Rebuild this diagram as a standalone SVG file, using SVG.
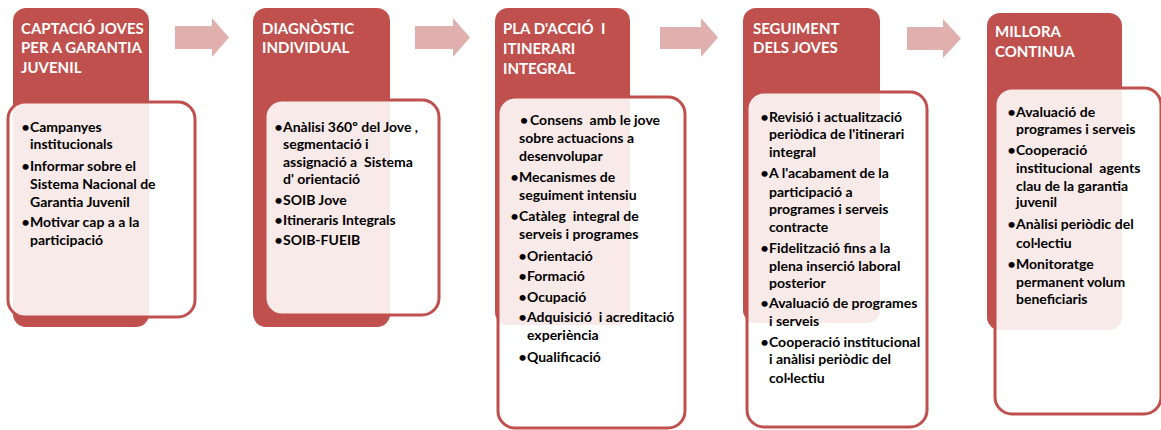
<svg xmlns="http://www.w3.org/2000/svg" width="1161" height="430" viewBox="0 0 1161 430">
<style>
.hd{fill:#c0504d}
.bx{fill:#ffffff;fill-opacity:0.88;stroke:#c0504d;stroke-width:3}
.ti{font-family:Lato,"Liberation Sans",sans-serif;font-weight:bold;font-size:15px;fill:#ffffff}
.tx{font-family:Lato,"Liberation Sans",sans-serif;font-weight:bold;font-size:14px;fill:#000000}
.bu{font-family:Lato,"Liberation Sans",sans-serif;font-weight:bold;font-size:14px;fill:#000000;text-anchor:end}
.ar{fill:#e0b0af}
</style>
<rect width="1161" height="430" fill="#ffffff"/>
<g id="connectors">
<polygon class="ar" points="175,26 212,26 212,18 229,37.5 212,57 212,49 175,49"/>
<polygon class="ar" points="415,26 453,26 453,18 470,37.5 453,57 453,49 415,49"/>
<polygon class="ar" points="660,27 701,27 701,18 718,37.5 701,57 701,49 660,49"/>
<polygon class="ar" points="907,27 943,27 943,19 961,38.5 943,58 943,50 907,50"/>
</g>
<g id="node1">
<rect class="hd" x="13" y="8" width="136" height="319" rx="13"/>
<rect class="bx" x="8" y="102" width="187" height="215" rx="17"/>
<text class="ti"><tspan x="21" y="34">CAPTACIÓ JOVES</tspan><tspan x="21" y="53">PER A GARANTIA</tspan><tspan x="21" y="73">JUVENIL</tspan></text>
<text class="bu"><tspan x="29.5" y="132">•</tspan><tspan x="29.5" y="171">•</tspan><tspan x="29.5" y="227">•</tspan></text>
<text class="tx"><tspan x="30" y="132">Campanyes</tspan><tspan x="30" y="149">institucionals</tspan><tspan x="30" y="171">Informar sobre el</tspan><tspan x="30" y="189">Sistema Nacional de</tspan><tspan x="30" y="207">Garantia Juvenil</tspan><tspan x="30" y="227">Motivar cap a a la</tspan><tspan x="30" y="245">participació</tspan></text>
</g>
<g id="node2">
<rect class="hd" x="253" y="8" width="137" height="319" rx="13"/>
<rect class="bx" x="265" y="100" width="174" height="215" rx="17"/>
<text class="ti"><tspan x="262" y="34">DIAGNÒSTIC</tspan><tspan x="262" y="53">INDIVIDUAL</tspan></text>
<text class="bu"><tspan x="282.5" y="132">•</tspan><tspan x="282.5" y="205">•</tspan><tspan x="282.5" y="225">•</tspan><tspan x="282.5" y="245">•</tspan></text>
<text class="tx" xml:space="preserve"><tspan x="283" y="132">Anàlisi 360º del Jove ,</tspan><tspan x="283" y="149">segmentació i</tspan><tspan x="283" y="167">assignació a  Sistema</tspan><tspan x="283" y="184">d' orientació</tspan><tspan x="283" y="205">SOIB Jove</tspan><tspan x="283" y="225">Itineraris Integrals</tspan><tspan x="283" y="245">SOIB-FUEIB</tspan></text>
</g>
<g id="node3">
<rect class="hd" x="495" y="8" width="135" height="317" rx="13"/>
<rect class="bx" x="498" y="97" width="187" height="331" rx="17"/>
<text class="ti" xml:space="preserve"><tspan x="503" y="34">PLA D'ACCIÓ  I</tspan><tspan x="503" y="54">ITINERARI</tspan><tspan x="503" y="74">INTEGRAL</tspan></text>
<text class="bu"><tspan x="528" y="125">•</tspan><tspan x="518.5" y="182">•</tspan><tspan x="518.5" y="221">•</tspan><tspan x="526.5" y="261">•</tspan><tspan x="526.5" y="281">•</tspan><tspan x="526.5" y="302">•</tspan><tspan x="526.5" y="322">•</tspan><tspan x="526.5" y="362">•</tspan></text>
<text class="tx" xml:space="preserve"><tspan x="530" y="125">Consens  amb le jove</tspan><tspan x="519" y="143">sobre actuacions a</tspan><tspan x="519" y="161">desenvolupar</tspan><tspan x="519" y="182">Mecanismes de</tspan><tspan x="519" y="200">seguiment intensiu</tspan><tspan x="519" y="221">Catàleg  integral de</tspan><tspan x="519" y="239">serveis i programes</tspan><tspan x="527" y="261">Orientació</tspan><tspan x="527" y="281">Formació</tspan><tspan x="527" y="302">Ocupació</tspan><tspan x="527" y="322">Adquisició  i acreditació</tspan><tspan x="527" y="340">experiència</tspan><tspan x="527" y="362">Qualificació</tspan></text>
</g>
<g id="node4">
<rect class="hd" x="743" y="8" width="137" height="315" rx="13"/>
<rect class="bx" x="747" y="92" width="180" height="335" rx="17"/>
<text class="ti"><tspan x="753" y="34">SEGUIMENT</tspan><tspan x="753" y="53">DELS JOVES</tspan></text>
<text class="bu"><tspan x="768.5" y="122">•</tspan><tspan x="768.5" y="178">•</tspan><tspan x="768.5" y="253">•</tspan><tspan x="768.5" y="308">•</tspan><tspan x="768.5" y="347">•</tspan></text>
<text class="tx"><tspan x="769" y="122">Revisió i actualització</tspan><tspan x="769" y="139">periòdica de l'itinerari</tspan><tspan x="769" y="157">integral</tspan><tspan x="769" y="178">A l'acabament de la</tspan><tspan x="769" y="197">participació a</tspan><tspan x="769" y="214">programes i serveis</tspan><tspan x="769" y="232">contracte</tspan><tspan x="769" y="253">Fidelització fins a la</tspan><tspan x="769" y="271">plena inserció laboral</tspan><tspan x="769" y="288">posterior</tspan><tspan x="769" y="308">Avaluació de programes</tspan><tspan x="769" y="326">i serveis</tspan><tspan x="769" y="347">Cooperació institucional</tspan><tspan x="769" y="364">i anàlisi periòdic del</tspan><tspan x="769" y="383">col·lectiu</tspan></text>
</g>
<g id="node5">
<rect class="hd" x="987" y="13" width="135" height="317" rx="13"/>
<rect class="bx" x="995" y="88" width="166" height="326" rx="17"/>
<text class="ti"><tspan x="995" y="37">MILLORA</tspan><tspan x="995" y="57">CONTINUA</tspan></text>
<text class="bu"><tspan x="1015.5" y="117">•</tspan><tspan x="1015.5" y="155">•</tspan><tspan x="1015.5" y="229">•</tspan><tspan x="1015.5" y="269">•</tspan></text>
<text class="tx" xml:space="preserve"><tspan x="1016" y="117">Avaluació de</tspan><tspan x="1016" y="134">programes i serveis</tspan><tspan x="1016" y="155">Cooperació</tspan><tspan x="1016" y="173">institucional  agents</tspan><tspan x="1016" y="191">clau de la garantia</tspan><tspan x="1016" y="207">juvenil</tspan><tspan x="1016" y="229">Anàlisi periòdic del</tspan><tspan x="1016" y="248">col·lectiu</tspan><tspan x="1016" y="269">Monitoratge</tspan><tspan x="1016" y="287">permanent volum</tspan><tspan x="1016" y="304">beneficiaris</tspan></text>
</g>
</svg>
